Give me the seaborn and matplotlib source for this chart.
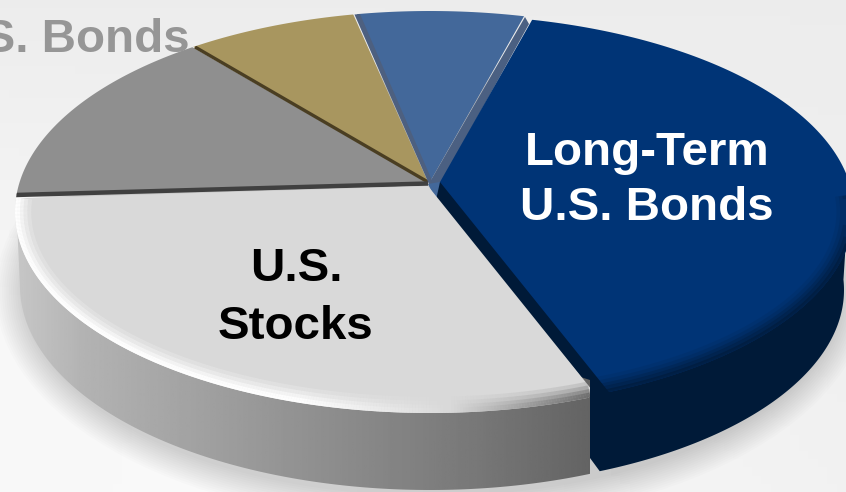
import numpy as np
import matplotlib
matplotlib.use("Agg")
import matplotlib.pyplot as plt
from matplotlib.patches import Polygon, Ellipse
from matplotlib.collections import LineCollection
import seaborn as sns

# Data: shares as seen on the drawn pie
categories = ["Long-Term U.S. Bonds", "Blue Slice", "Gold Slice", "Gray Slice", "U.S. Stocks"]
shares = [31.0, 14.9, 10.0, 8.8, 35.3]
slice_colors = ["#003476", "#43689a", "#a8965f", "#8f8f8f", "#d9d9d9"]
labels_big = {"Long-Term\nU.S. Bonds": (647, 180.5, "white", 1.32), "U.S.\nStocks": (296, 298, "black", 1.39)}
faded_label = "U.S. Bonds"

sns.set_theme(style="white")
plt.rcParams["font.family"] = ["Liberation Sans", "DejaVu Sans"]
palette = sns.color_palette(slice_colors)

W, H = 846, 492
fig = plt.figure(figsize=(W / 100, H / 100), dpi=100)
ax = fig.add_axes([0, 0, 1, 1])


def Y(p):
    return H - np.asarray(p, dtype=float)


def arc(cx, cy, a, b, t0=0, t1=360, n=400):
    t = np.radians(np.linspace(t0, t1, n))
    return cx + a * np.cos(t), cy - b * np.sin(t)  # pixel-style y


def clip_poly(x, y):
    return Polygon(np.column_stack([x, Y(y)]), closed=True, transform=ax.transData)


wedges, _ = ax.pie(shares, colors=palette, startangle=-51.2, radius=1500,
                   wedgeprops=dict(linewidth=0))
ax.set_aspect("auto")
ax.set_xlim(0, W)
ax.set_ylim(0, H)
ax.axis("off")

# background
yy, xx = np.mgrid[0:1:60j, 0:1:90j]
bg = 0.925 + 0.045 * np.clip(yy * (1 - xx) * 1.5, 0, 1) + 0.02 * np.clip(yy, 0, 1) * xx
ax.imshow(bg, extent=(0, W, 0, H), origin="upper", cmap="gray", vmin=0, vmax=1,
          aspect="auto", zorder=0)
ax.set_xlim(0, W)
ax.set_ylim(0, H)

# soft shadow under pie
for i in range(14):
    ax.add_patch(Ellipse((432, Y(292)), 2 * (408 + i * 2.2), 2 * (204 + i * 2.2),
                         facecolor="black", edgecolor="none", alpha=0.012, zorder=1))

ax.text(190, Y(52), faded_label, ha="right", va="baseline", fontsize=34.2,
        fontweight="bold", color="#969696", zorder=1.5)

# surface outlines
ex, ey = arc(430, 212, 415, 201)
dx, dy = arc(442, 212, 412, 197)

centers = {0: (440, 182), 1: (431, 180), 2: (428, 182), 3: (428, 183), 4: (428, 186)}
clips = {0: (dx, dy), 1: (ex, ey), 2: (ex, ey), 3: (ex, ey), 4: (np.minimum(ex, 590), ey)}
orders = {3: 2, 2: 3, 1: 4, 0: 6, 4: 8}
for i, w in enumerate(wedges):
    cx, cy = centers[i]
    w.set_center((cx, Y(cy)))
    w.set_zorder(orders[i])
    w.set_clip_on(True)
    w.set_clip_path(clip_poly(*clips[i]))

# separators
for (p, q, c, lw, z) in [((428, 182), (195, 47), "#4a3e22", 2.4, 3.5),
                         ((428, 183.5), (15, 195), "#404040", 3.2, 3.5)]:
    l, = ax.plot([p[0], q[0]], Y([p[1], q[1]]), color=c, lw=lw, zorder=z,
                 solid_capstyle="butt")
    l.set_clip_path(clip_poly(ex, ey))

# strips on both sides of the blue slice, and its foot below the apex
ax.add_patch(Polygon(np.column_stack([[354.5, 360, 437, 429], Y([14.5, 14, 192, 184])]),
                     facecolor="#4d6080", edgecolor="none", zorder=4.5))
ax.add_patch(Polygon(np.column_stack([[525, 431, 437, 441, 529], Y([17, 180, 200, 183, 24])]),
                     facecolor="#4b6082", edgecolor="none", zorder=4.5))
ax.add_patch(Polygon(np.column_stack([[428, 440, 440, 437], Y([184, 182, 202, 202])]),
                     facecolor="#43689a", edgecolor="none", zorder=4.6))

# dark wall of the long-term slice
bx, by = arc(442, 290, 402, 197, -66.9, 3, 200)
wx = np.concatenate([[440, 436, 590, 590], bx, [846]])
wy = np.concatenate([[182, 200, 388, 458], by, [240]])
ax.add_patch(Polygon(np.column_stack([wx, Y(wy)]), facecolor="#001a38",
                     edgecolor="none", zorder=5))

# stock wall with horizontal gradient
sx, sy = arc(430, 286, 410, 204, 181, 293, 300)
sx = np.concatenate([[16], sx, [590, 590]])
sy = np.concatenate([[198], sy, [sy[-1], 380]])
wall = clip_poly(sx, sy)
grad = np.interp(np.linspace(0, 1, 300), [0, 0.12, 0.5, 0.8, 1], [0.78, 0.70, 0.57, 0.47, 0.39])[None, :]
im = ax.imshow(grad, extent=(15, 591, Y(492), Y(190)), cmap="gray", vmin=0, vmax=1,
               aspect="auto", zorder=7)
im.set_clip_path(wall)
ax.set_xlim(0, W)
ax.set_ylim(0, H)

# rim highlight and soft shading on the stock surface
for inset, lw, strength in [(10, 9, 0.2), (7.5, 7, 0.3), (5, 5, 0.5), (2.5, 3.5, 0.85), (0.5, 2.5, 0.9)]:
    rx, ry = arc(430, 212, 415 - inset, 201 - inset, 176, 293, 300)
    rx = np.minimum(rx, 590)
    pts = np.column_stack([rx, Y(ry)])
    segs = np.stack([pts[:-1], pts[1:]], axis=1)
    mid = rx[:-1]
    gray = np.interp(mid, [0, 300, 450, 590], [1.0, 1.0, 0.85, 0.42])
    cols = np.column_stack([gray, gray, gray, np.full_like(gray, strength)])
    lc = LineCollection(segs, colors=cols, linewidths=lw, zorder=8.5, capstyle="butt")
    lc.set_clip_path(clip_poly(np.minimum(ex, 590), ey))
    ax.add_collection(lc)

# soft edge on the dark slice
for inset, lw, alpha in [(12, 8, 0.1), (9, 7, 0.15), (6, 6, 0.25), (3.5, 5, 0.35), (1.5, 3, 0.6)]:
    rx, ry = arc(442, 212, 412 - inset, 197 - inset, -68, 5, 200)
    l, = ax.plot(rx, Y(ry), color="#001a38", lw=lw, alpha=alpha, zorder=6.5,
                 solid_capstyle="butt")
    l.set_clip_path(clip_poly(dx, dy))

for txt, (x, y, c, ls) in labels_big.items():
    ax.text(x, Y(y), txt, ha="center", va="center", color=c, fontsize=34.2,
            fontweight="bold", linespacing=ls, zorder=10)

fig.savefig("out.png", dpi=100)
